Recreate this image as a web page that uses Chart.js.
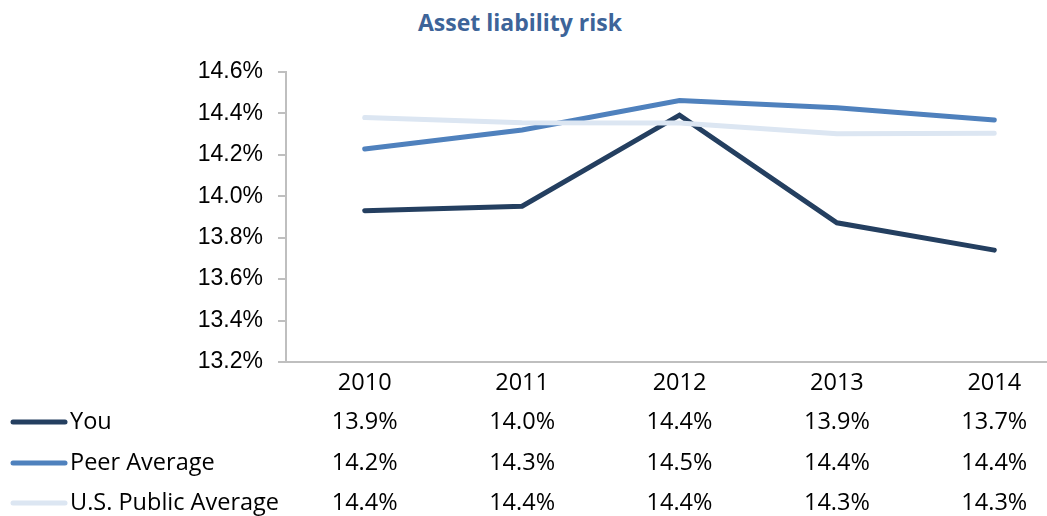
<!DOCTYPE html>
<html>
<head>
<meta charset="utf-8">
<script src="https://cdn.jsdelivr.net/npm/chart.js@4"></script>
<style>
  html, body { margin: 0; padding: 0; background: #fff; overflow: hidden; }
  #wrap { position: relative; width: 1047px; height: 516px; overflow: hidden; }
  #title {
    position: absolute; left: 0; top: 6px; width: 1040px; text-align: center;
    font: bold 23px "Open Sans", sans-serif; color: #3d6499;
  }
  #chart { position: absolute; left: 0; top: 0; }
</style>
</head>
<body>
<div id="wrap">
  <div id="title">Asset liability risk</div>
  <canvas id="chart" width="1073" height="516"></canvas>
</div>
<script>
const years = ['2010', '2011', '2012', '2013', '2014'];
const yTicks = [13.2, 13.4, 13.6, 13.8, 14.0, 14.2, 14.4, 14.6];

const you = [13.93, 13.952, 14.392, 13.872, 13.74];
const peerAvg = [14.228, 14.32, 14.462, 14.427, 14.368];
const publicAvg = [14.38, 14.355, 14.354, 14.302, 14.304];

const AXIS = '#bfbfbf';
const TABLE_FONT = '23.5px "Open Sans", sans-serif';

const series = [
  { label: 'You', data: you, color: '#243f60', order: 3 },
  { label: 'Peer Average', data: peerAvg, color: '#4f81bd', order: 2 },
  { label: 'U.S. Public Average', data: publicAvg, color: '#dce6f2', order: 1 }
];

// data table under the x axis: legend swatch, name, then one value per year
const tablePlugin = {
  id: 'dataTable',
  afterDraw(chart) {
    const { ctx } = chart;
    const x = chart.scales.x;
    const rowY = [422, 463, 503];
    ctx.save();
    ctx.font = TABLE_FONT;
    ctx.fillStyle = '#000';
    ctx.textBaseline = 'middle';
    series.forEach((s, r) => {
      const y = rowY[r];
      ctx.strokeStyle = s.color;
      ctx.lineWidth = 5;
      ctx.lineCap = 'round';
      ctx.beginPath();
      ctx.moveTo(13, y);
      ctx.lineTo(65, y);
      ctx.stroke();
      ctx.textAlign = 'left';
      ctx.fillText(s.label, 70, y);
      ctx.textAlign = 'center';
      s.data.forEach((v, i) => ctx.fillText(v.toFixed(1) + '%', x.getPixelForValue(i), y));
    });
    ctx.restore();
  }
};

new Chart(document.getElementById('chart'), {
  type: 'line',
  data: {
    labels: years,
    datasets: series.map(s => ({
      label: s.label,
      data: s.data,
      borderColor: s.color,
      backgroundColor: s.color,
      borderWidth: 5,
      borderCapStyle: 'round',
      borderJoinStyle: 'miter',
      pointRadius: 0,
      tension: 0,
      order: s.order
    }))
  },
  options: {
    responsive: false,
    animation: false,
    devicePixelRatio: 1,
    layout: { padding: { top: 72, bottom: 104, right: 0, left: 0 } },
    plugins: {
      legend: { display: false },
      title: { display: false },
      tooltip: { enabled: false }
    },
    scales: {
      x: {
        offset: true,
        grid: { display: false, offset: true },
        border: { display: true, color: AXIS, width: 2 },
        ticks: { color: '#000', font: { family: '"Open Sans", sans-serif', size: 23.5 }, padding: -1 },
        afterFit: (scale) => { scale.height = 50; }
      },
      y: {
        min: 13.2,
        max: 14.6,
        afterBuildTicks: (scale) => { scale.ticks = yTicks.map(v => ({ value: v })); },
        grid: { drawOnChartArea: false, drawTicks: true, tickLength: 8, color: AXIS, lineWidth: 2 },
        border: { display: true, color: AXIS, width: 2 },
        ticks: {
          color: '#000',
          padding: 15,
          font: { family: '"Liberation Sans", Arial, sans-serif', size: 23 },
          callback: (v) => Number(v).toFixed(1) + '%'
        },
        afterFit: (scale) => { scale.width = 286; }
      }
    }
  },
  plugins: [tablePlugin]
});
</script>
</body>
</html>
